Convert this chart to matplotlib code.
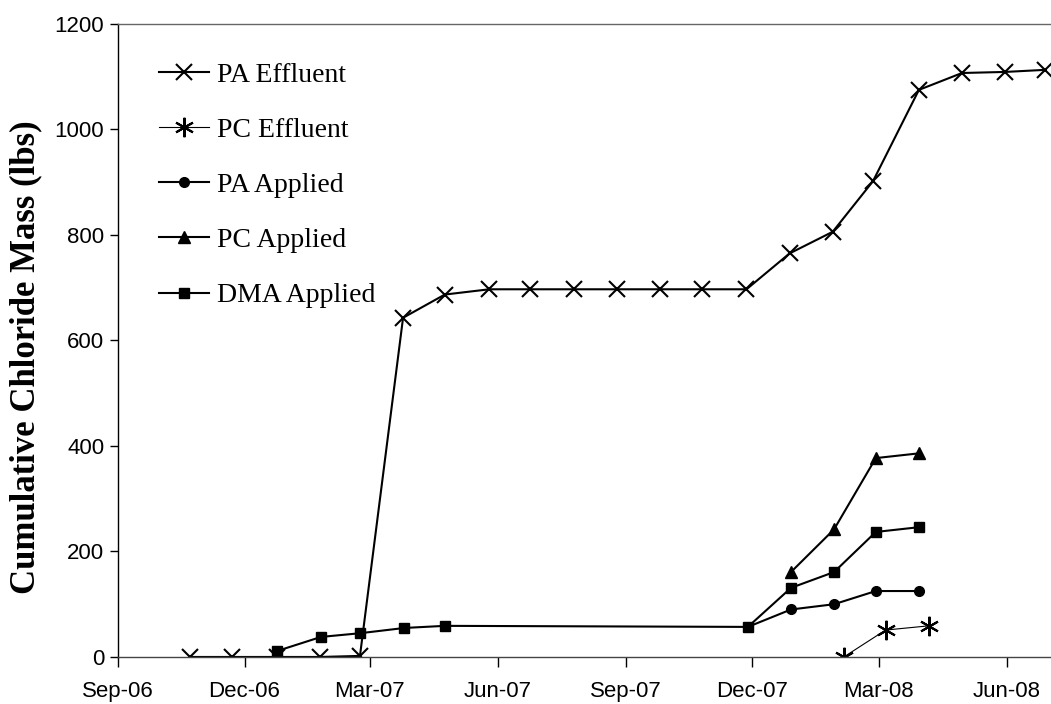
import numpy as np
import pandas as pd
import matplotlib
matplotlib.use('Agg')
import matplotlib.pyplot as plt
import matplotlib.dates as mdates

# dados (datas aproximadas)
pa_eff_dates = pd.to_datetime([
    '2006-10-23', '2006-11-22', '2006-12-24', '2007-01-24', '2007-02-22',
    '2007-03-25', '2007-04-24', '2007-05-26', '2007-06-24', '2007-07-26',
    '2007-08-26', '2007-09-26', '2007-10-26', '2007-11-27', '2007-12-28',
    '2008-01-28', '2008-02-26', '2008-03-30', '2008-04-30', '2008-05-31',
    '2008-06-29'])
pa_eff = [0, 0, 0, 0, 2, 643, 687, 697, 697, 697, 697, 697, 697, 697,
          765, 806, 902, 1075, 1107, 1109, 1113]

pc_eff_dates = pd.to_datetime(['2008-02-05', '2008-03-06', '2008-04-06'])
pc_eff = [0, 51, 59]

pa_app_dates = pd.to_datetime(['2007-11-28', '2007-12-29', '2008-01-29',
                               '2008-02-28', '2008-03-30'])
pa_app = [57, 90, 100, 125, 125]

pc_app_dates = pd.to_datetime(['2007-12-29', '2008-01-29', '2008-02-28',
                               '2008-03-30'])
pc_app = [161, 242, 377, 386]

dma_dates = pd.to_datetime(['2006-12-24', '2007-01-25', '2007-02-22',
                            '2007-03-26', '2007-04-24', '2007-11-28',
                            '2007-12-29', '2008-01-29', '2008-02-28',
                            '2008-03-30'])
dma_app = [11, 38, 45, 55, 59, 57, 131, 161, 237, 246]

fig = plt.figure(figsize=(10.51, 7.04), dpi=100)
ax = fig.add_axes([0.1123, 0.0668, 0.8877, 0.8992])

ax.plot(pa_eff_dates, pa_eff, color='black', lw=1.5, marker='x', ms=11,
        mew=1.5, label='PA Effluent')
ax.plot(pc_eff_dates, pc_eff, color='black', lw=0.8, marker=(6, 2, 0), ms=14,
        mew=1.5, label='PC Effluent')
ax.plot(pa_app_dates, pa_app, color='black', lw=1.5, marker='o', ms=7,
        label='PA Applied')
ax.plot(pc_app_dates, pc_app, color='black', lw=1.5, marker='^', ms=8,
        label='PC Applied')
ax.plot(dma_dates, dma_app, color='black', lw=1.5, marker='s', ms=7,
        label='DMA Applied')

ax.set_xlim(pd.Timestamp('2006-09-01'), pd.Timestamp('2008-07-03'))
ax.set_ylim(0, 1200)
ax.set_yticks(np.arange(0, 1201, 200))
ax.xaxis.set_major_locator(mdates.MonthLocator(bymonth=[3, 6, 9, 12]))
ax.xaxis.set_major_formatter(mdates.DateFormatter('%b-%y'))

for lab in ax.get_xticklabels() + ax.get_yticklabels():
    lab.set_fontfamily('Liberation Sans')
    lab.set_fontsize(16)
ax.tick_params(axis='x', direction='out', length=7, width=1, pad=10)
ax.tick_params(axis='y', direction='out', length=6, width=1, pad=4)

ax.spines['right'].set_visible(False)
for s in ['left', 'top', 'bottom']:
    ax.spines[s].set_linewidth(1)
ax.spines['top'].set_color('#666666')
ax.spines['bottom'].set_color('#444444')

ax.set_ylabel('Cumulative Chloride Mass (lbs)', fontfamily='Liberation Serif',
              fontweight='bold', fontsize=25)
ax.yaxis.set_label_coords(-0.081, 0.474)

ax.legend(loc='upper left', bbox_to_anchor=(0.017, 0.979), frameon=False,
          prop={'family': 'Liberation Serif', 'size': 20},
          handlelength=1.8, handletextpad=0.3, labelspacing=1.07)

plt.savefig('out.png', dpi=100)
